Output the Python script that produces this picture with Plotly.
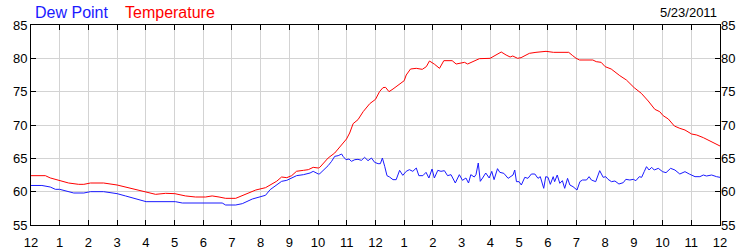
import plotly.graph_objects as go

# ---- data (hours since midnight, degrees F) ----
temp_hours = [0.0, 0.5, 0.67, 1.0, 1.31, 1.66, 1.84, 2.07, 2.53, 3.0, 3.29, 3.64, 4.01, 4.34, 4.69, 5.01,
              5.38, 5.73, 6.08, 6.31, 6.55, 6.78, 7.13, 7.48, 7.83, 8.17, 8.56, 8.73, 8.91, 9.08, 9.25,
              9.49, 9.66, 9.83, 10.01, 10.06, 10.18, 10.35, 10.58, 10.76, 10.99, 11.1, 11.22, 11.39,
              11.57, 11.8, 12.0, 12.14, 12.26, 12.35, 12.47, 12.61, 12.78, 13.0, 13.07, 13.22, 13.42,
              13.63, 13.77, 13.88, 14.06, 14.23, 14.38, 14.52, 14.67, 14.81, 14.98, 15.1, 15.21, 15.39,
              15.62, 15.99, 16.14, 16.38, 16.55, 16.69, 16.78, 16.95, 17.07, 17.36, 17.59, 17.94, 18.2,
              18.41, 18.5, 18.73, 18.87, 18.99, 19.11, 19.57, 19.69, 19.86, 20.0, 20.21, 20.51, 20.74,
              21.01, 21.26, 21.5, 21.73, 21.9, 22.02, 22.2, 22.41, 22.6, 22.78, 23.01, 23.19, 23.42,
              23.65, 23.89, 24.0]
temp_values = [62.4, 62.4, 62.06, 61.67, 61.3, 61.1, 61.1, 61.3, 61.3, 61.0, 60.7, 60.3, 59.85, 59.6, 59.75, 59.7,
               59.36, 59.2, 59.2, 59.36, 59.2, 59.0, 59.0, 59.6, 60.25, 60.6, 61.57, 62.2, 62.1, 62.4, 63.06,
               63.2, 63.3, 63.65, 63.55, 63.65, 64.2, 65.05, 65.8, 66.8, 67.9, 68.8, 70.2, 70.8,
               72.0, 73.2, 73.85, 75.0, 75.6, 75.65, 75.0, 75.4, 76.0, 76.65, 77.5, 78.4, 78.5,
               78.35, 78.75, 79.6, 79.1, 78.5, 79.65, 79.65, 79.65, 79.15, 79.25, 79.4, 79.15, 79.5,
               79.95, 80.0, 80.35, 80.95, 80.5, 80.2, 80.35, 80.0, 80.1, 80.75, 80.9, 81.05, 80.9,
               80.9, 81.0, 80.9, 80.4, 80.0, 79.75, 79.75, 79.5, 79.4, 78.75, 78.4, 77.4, 76.75,
               75.6, 74.75, 73.6, 72.35, 72.0, 71.4, 70.9, 69.85, 69.5, 69.25, 68.65, 68.5, 68.1,
               67.65, 67.15, 66.85]

dew_hours = [0.0, 0.38, 0.67, 0.85, 1.0, 1.2, 1.49, 1.84, 2.07, 2.53, 3.0, 3.29, 3.64, 4.01, 5.03, 5.27,
             6.66, 6.78, 7.13, 7.36, 7.71, 8.17, 8.33, 8.56, 8.73, 8.91, 9.08, 9.25, 9.49, 9.72, 9.83,
             10.01, 10.06, 10.18, 10.35, 10.47, 10.58, 10.7, 10.82, 10.87, 10.97, 11.08, 11.16, 11.28,
             11.39, 11.51, 11.62, 11.74, 11.86, 11.97, 12.09, 12.17, 12.24, 12.32, 12.4, 12.49, 12.61,
             12.72, 12.84, 12.95, 13.07, 13.18, 13.3, 13.42, 13.51, 13.65, 13.76, 13.86, 13.97, 14.05,
             14.17, 14.28, 14.4, 14.51, 14.63, 14.78, 14.92, 15.03, 15.15, 15.24, 15.32, 15.44, 15.5,
             15.58, 15.65, 15.73, 15.84, 15.96, 16.05, 16.13, 16.25, 16.33, 16.47, 16.62, 16.79, 16.85,
             16.91, 17.0, 17.08, 17.2, 17.31, 17.43, 17.55, 17.66, 17.74, 17.86, 17.93, 18.01, 18.09,
             18.19, 18.24, 18.33, 18.42, 18.51, 18.59, 18.69, 18.77, 18.88, 19.02, 19.12, 19.21, 19.35,
             19.44, 19.52, 19.67, 19.81, 19.93, 20.02, 20.1, 20.22, 20.34, 20.48, 20.63, 20.72, 20.86,
             20.98, 21.07, 21.19, 21.27, 21.36, 21.44, 21.53, 21.62, 21.71, 21.85, 22.0, 22.12, 22.28,
             22.43, 22.6, 22.78, 22.93, 23.13, 23.3, 23.42, 23.53, 23.71, 23.88, 24.0]
dew_values = [60.93, 60.93, 60.7, 60.35, 60.35, 60.15, 59.8, 59.8, 60.0, 60.0, 59.7, 59.36, 58.97, 58.5, 58.5, 58.3,
              58.3, 58.0, 58.0, 58.2, 58.9, 59.46, 60.3, 61.05, 61.55, 61.7, 62.05, 62.4, 62.55, 62.8, 63.05,
              62.65, 62.7, 63.15, 63.9, 64.55, 65.3, 65.4, 65.65, 65.3, 64.8, 64.9, 64.55, 64.8,
              64.85, 64.7, 65.15, 64.65, 65.05, 64.4, 64.2, 64.2, 65.05, 63.8, 62.4, 62.2, 61.8,
              61.8, 63.2, 62.45, 63.05, 63.3, 63.05, 63.55, 62.4, 62.4, 62.9, 62.05, 63.4, 62.05,
              63.2, 63.05, 63.15, 62.4, 62.55, 61.3, 62.55, 61.7, 62.05, 61.3, 62.55, 62.2, 62.55,
              64.3, 61.55, 62.05, 62.8, 62.05, 63.05, 61.8, 63.45, 62.9, 62.75, 62.0, 62.5, 63.25,
              61.5, 61.5, 61.0, 62.15, 62.0, 62.65, 62.65, 62.0, 62.25, 60.5, 62.25, 62.15, 61.1,
              62.25, 61.5, 62.5, 61.25, 61.65, 60.5, 62.0, 61.0, 60.75, 60.25, 61.5, 61.75, 61.75,
              62.25, 61.75, 61.5, 63.15, 62.15, 62.25, 61.85, 61.5, 61.6, 61.15, 61.35, 61.85, 61.75,
              61.85, 61.65, 62.25, 62.15, 63.0, 63.75, 63.25, 63.65, 63.25, 63.5, 63.0, 62.85, 63.5,
              63.25, 62.65, 63.0, 62.65, 62.25, 62.25, 62.5, 62.35, 62.5, 62.25, 62.15]

x_tick_vals = list(range(0, 25))
x_tick_text = ["12", "1", "2", "3", "4", "5", "6", "7", "8", "9", "10", "11",
               "12", "1", "2", "3", "4", "5", "6", "7", "8", "9", "10", "11", "12"]
y_tick_vals = [55, 60, 65, 70, 75, 80, 85]
series_names = ["Dew Point", "Temperature"]
series_colors = ["#1a1aff", "#ff0000"]
date_label = "5/23/2011"

FONT = "Liberation Sans, Arial, sans-serif"

fig = go.Figure()
fig.add_trace(go.Scatter(x=dew_hours, y=dew_values, mode="lines", name=series_names[0],
                         line=dict(color=series_colors[0], width=1), showlegend=False))
fig.add_trace(go.Scatter(x=temp_hours, y=temp_values, mode="lines", name=series_names[1],
                         line=dict(color=series_colors[1], width=1), showlegend=False))
# invisible trace for the right-side axis labels
fig.add_trace(go.Scatter(x=[0], y=[55], yaxis="y2", mode="markers", marker=dict(opacity=0),
                         showlegend=False, hoverinfo="skip"))

axis_common = dict(showline=True, linecolor="black", linewidth=1, ticks="inside", ticklen=5,
                   tickcolor="black", tickwidth=1, gridcolor="#d3d3d3", gridwidth=1,
                   tickfont=dict(family=FONT, size=13, color="black"), zeroline=False)

fig.update_layout(
    width=750, height=250,
    margin=dict(l=31, r=30, t=25, b=25),
    paper_bgcolor="white", plot_bgcolor="white",
    xaxis=dict(range=[0, 24], tickmode="array", tickvals=x_tick_vals, ticktext=x_tick_text,
               mirror="ticks", ticklabelstandoff=5, automargin=False, **axis_common),
    yaxis=dict(range=[55, 85], tickmode="array", tickvals=y_tick_vals, mirror="ticks",
               automargin=False, **axis_common),
    yaxis2=dict(range=[55, 85], tickmode="array", tickvals=y_tick_vals, overlaying="y", side="right",
                showline=False, ticks="", showgrid=False, zeroline=False, automargin=False,
                tickfont=dict(family=FONT, size=13, color="black")),
    annotations=[
        dict(text=series_names[0], xref="paper", yref="paper", x=0.003, y=1.06, xanchor="left",
             yanchor="middle", showarrow=False, font=dict(family=FONT, size=16, color=series_colors[0])),
        dict(text=series_names[1], xref="paper", yref="paper", x=(123 - 31) / 689, y=1.06, xanchor="left",
             yanchor="middle", showarrow=False, font=dict(family=FONT, size=16, color=series_colors[1])),
        dict(text=date_label, xref="paper", yref="paper", x=(719 - 31) / 689, y=1.065, xanchor="right",
             yanchor="middle", showarrow=False, font=dict(family=FONT, size=13, color="black")),
    ],
)

fig.write_html("out.html")
